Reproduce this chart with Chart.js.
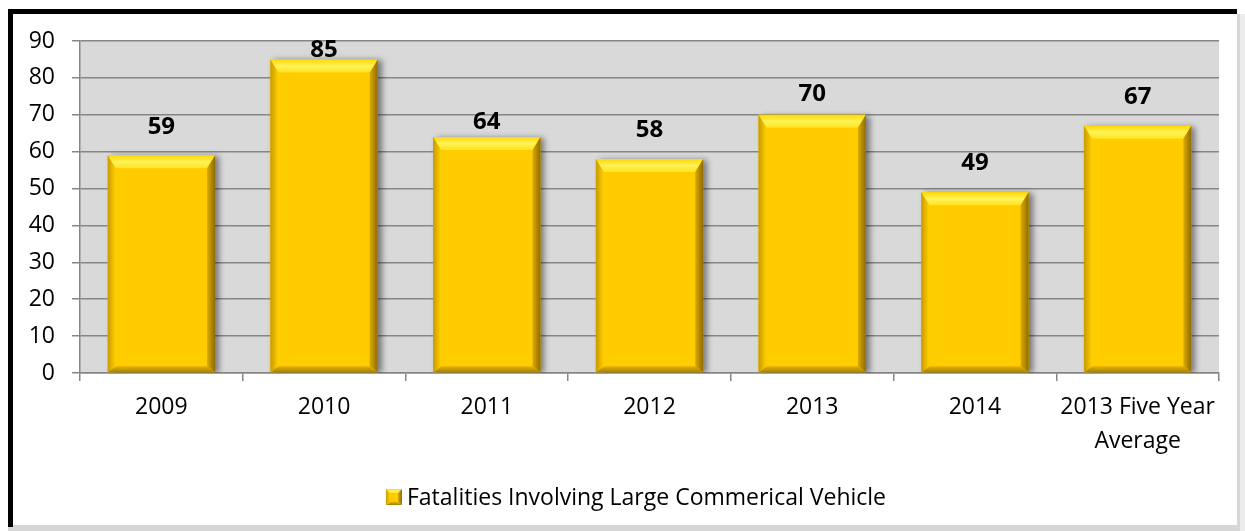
<!DOCTYPE html>
<html>
<head>
<meta charset="utf-8">
<script src="https://cdn.jsdelivr.net/npm/chart.js@4"></script>
<style>
  html, body { margin: 0; padding: 0; background: #fff; }
  #wrap { width: 1245px; height: 531px; position: relative; }
</style>
</head>
<body>
<div id="wrap"><canvas id="chart"></canvas></div>
<script>
const categories = ['2009', '2010', '2011', '2012', '2013', '2014', ['2013 Five Year', 'Average']];
const fatalities = [59, 85, 64, 58, 70, 49, 67];
const seriesName = 'Fatalities Involving Large Commerical Vehicle';
const yMax = 90;
const yStep = 10;

const FONT = '"Open Sans", "Noto Sans", sans-serif';

// white page + black frame with grey shadow edges
const frame = {
    id: 'frame',
    beforeDraw(chart) {
        const { ctx, width, height } = chart;
        ctx.save();
        ctx.fillStyle = '#fff';
        ctx.fillRect(0, 0, width, height);
        // shadow right / bottom
        ctx.fillStyle = '#d6d6d6';
        ctx.fillRect(1237, 14, 8, height - 14);
        ctx.fillRect(8, 525, 1237, 6);
        ctx.fillStyle = '#ececec';
        ctx.fillRect(1240, 14, 5, height - 14);
        ctx.fillStyle = '#fff';
        ctx.fillRect(13, 14, 1224, 511);
        ctx.fillStyle = '#000';
        ctx.fillRect(8, 9, 1229, 5);
        ctx.fillRect(8, 9, 5, 518);
        ctx.restore();
    }
}

const plotBg = {
    id: 'plotBg',
    beforeDatasetsDraw(chart) {
        // shadow for bars
        const { ctx } = chart;
        ctx.save();
        ctx.shadowColor = 'rgba(0,0,0,0.45)';
        ctx.shadowBlur = 6;
        ctx.shadowOffsetX = 4;
        ctx.shadowOffsetY = 1;
    },
    afterDatasetsDraw(chart) {
        chart.ctx.restore();
    }
}

function poly(ctx, pts, fill) {
    ctx.beginPath();
    ctx.moveTo(pts[0][0], pts[0][1]);
    for (let i = 1; i < pts.length; i++) ctx.lineTo(pts[i][0], pts[i][1]);
    ctx.closePath();
    ctx.fillStyle = fill;
    ctx.fill();
}

function bevelRect(ctx, l, t, r, b, bt, bs, bb) {
    let g = ctx.createLinearGradient(0, t, 0, t + bt);
    g.addColorStop(0, '#FFD800');
    g.addColorStop(0.5, '#FFF25A');
    g.addColorStop(1, '#FFE41E');
    poly(ctx, [[l, t], [r, t], [r - bs, t + bt], [l + bs, t + bt]], g);
    g = ctx.createLinearGradient(r - bs, 0, r, 0);
    g.addColorStop(0, '#DDAA00');
    g.addColorStop(1, '#8E6B00');
    poly(ctx, [[r, t], [r, b], [r - bs, b - bb], [r - bs, t + bt]], g);
    g = ctx.createLinearGradient(0, b - bb, 0, b);
    g.addColorStop(0, '#E3B300');
    g.addColorStop(1, '#A88000');
    poly(ctx, [[l, b], [r, b], [r - bs, b - bb], [l + bs, b - bb]], g);
    g = ctx.createLinearGradient(l, 0, l + bs, 0);
    g.addColorStop(0, '#C99A00');
    g.addColorStop(1, '#FFD000');
    poly(ctx, [[l, t], [l + bs, t + bt], [l + bs, b - bb], [l, b]], g);
}

const bevel = {
    id: 'bevel',
    afterDatasetsDraw(chart) {
        const { ctx } = chart;
        ctx.save();
        chart.getDatasetMeta(0).data.forEach(bar => {
            const { x, y, base, width } = bar.getProps(['x', 'y', 'base', 'width'], true);
            bevelRect(ctx, x - width / 2, y, x + width / 2, base, 13, 8, 6);
        });
        ctx.restore();
    }
}

const valueLabels = {
    id: 'valueLabels',
    afterDatasetsDraw(chart, args, opts) {
        const { ctx } = chart;
        const values = chart.data.datasets[0].data;
        ctx.save();
        ctx.font = 'bold 24px ' + FONT;
        ctx.fillStyle = '#000';
        ctx.textAlign = 'center';
        ctx.textBaseline = 'middle';
        chart.getDatasetMeta(0).data.forEach((bar, i) => {
            ctx.fillText(values[i], bar.x, bar.y - opts.lift[i]);
        });
        ctx.restore();
    }
}

const legendBox = {
    id: 'legendBox',
    afterDraw(chart) {
        const { ctx } = chart;
        const text = chart.data.datasets[0].label;
        ctx.save();
        ctx.font = '23px ' + FONT;
        const tw = ctx.measureText(text).width;
        const total = 16 + 5 + tw;
        const x0 = 636 - total / 2;
        const cy = 497;
        bevelRect(ctx, x0, cy - 8, x0 + 16, cy + 8, 4, 4, 3);
        ctx.fillStyle = '#FFCC00';
        ctx.fillRect(x0 + 4, cy - 4, 8, 9);
        ctx.fillStyle = '#000';
        ctx.textBaseline = 'middle';
        ctx.fillText(text, x0 + 21, cy + 1);
        ctx.restore();
    }
}

new Chart(document.getElementById('chart'), {
    type: 'bar',
    data: {
        labels: categories,
        datasets: [{
            label: seriesName,
            data: fatalities,
            backgroundColor: '#FFCC00',
            borderWidth: 0,
            barPercentage: 0.66,
            categoryPercentage: 1
        }]
    },
    options: {
        responsive: true,
        maintainAspectRatio: false,
        animation: false,
        layout: { padding: { left: 13, top: 41, right: 26, bottom: 0 } },
        scales: {
            x: {
                afterFit(scale) { scale.height = 158; },
                grid: {
                    offset: true,
                    drawOnChartArea: false,
                    drawTicks: true,
                    tickLength: 8,
                    color: '#868686',
                    lineWidth: 1.5
                },
                border: { color: '#868686', width: 1.5 },
                ticks: {
                    color: '#000',
                    padding: 10,
                    maxRotation: 0,
                    font: { family: FONT, size: 23, lineHeight: 1.45 }
                }
            },
            y: {
                min: 0,
                max: yMax,
                afterFit(scale) { scale.width = 67; },
                grid: {
                    color: '#868686',
                    lineWidth: 1.5,
                    tickLength: 8
                },
                border: { color: '#868686', width: 1.5 },
                ticks: {
                    stepSize: yStep,
                    color: '#000',
                    padding: 17,
                    font: { family: FONT, size: 23 }
                }
            }
        },
        plugins: {
            legend: { display: false },
            tooltip: { enabled: false },
            valueLabels: { lift: [28, 9, 15, 29, 21, 29, 29] }
        }
    },
    plugins: [frame, {
        id: 'areaBg',
        beforeDraw(chart) {
            const { ctx, chartArea: { left, top, width, height } } = chart;
            ctx.save();
            ctx.fillStyle = '#D9D9D9';
            ctx.fillRect(left, top, width, height);
            ctx.restore();
        }
    }, plotBg, bevel, valueLabels, legendBox]
});
</script>
</body>
</html>
